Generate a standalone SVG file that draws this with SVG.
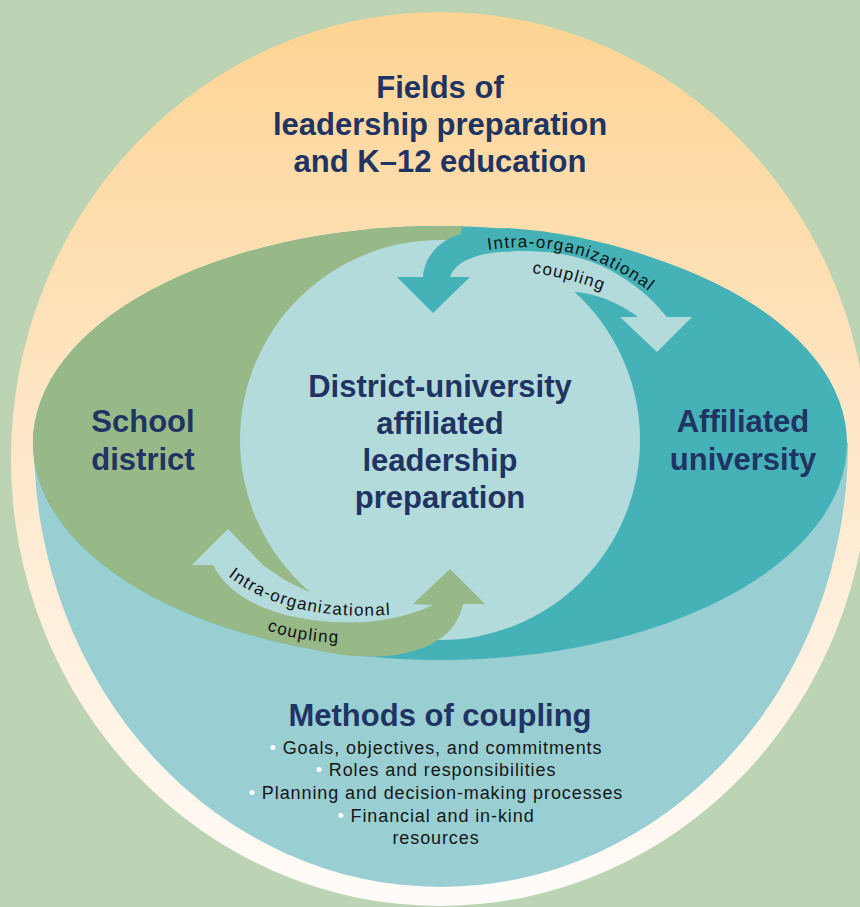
<svg xmlns="http://www.w3.org/2000/svg" width="860" height="907" viewBox="0 0 860 907">
<style>
.h{font-family:"Liberation Sans",Arial,sans-serif;font-weight:bold;font-size:31px;fill:#1f3462;text-anchor:middle}
.b{font-family:"Liberation Sans",Arial,sans-serif;font-size:18px;fill:#161616;text-anchor:middle;letter-spacing:0.9px}
.a{font-family:"Liberation Sans",Arial,sans-serif;font-size:17px;fill:#111;letter-spacing:1.3px}
.dot{fill:#ffffff}
</style>
<defs>
<linearGradient id="bg" x1="0" y1="0" x2="0" y2="1">
<stop offset="0" stop-color="#fdd493"/>
<stop offset="0.45" stop-color="#ffe6c6"/>
<stop offset="1" stop-color="#fffcf9"/>
</linearGradient>
<clipPath id="leftside"><polygon points="0,100 468,100 466,215 330,670 0,700"/></clipPath>
<path id="tp1" d="M 488 250 Q 585 235 662 302"/>
<path id="tp2" d="M 532 273 Q 571 278 614 295"/>
<path id="bp1" d="M 228 576 Q 292 626 410 613"/>
<path id="bp2" d="M 267 630 Q 301 643 352 643"/>
</defs>
<rect x="0" y="0" width="860" height="907" fill="#bcd4b4"/>
<g id="fields">
<ellipse cx="440" cy="459" rx="429" ry="447" fill="url(#bg)"/>
<text class="h" x="440" y="98">Fields of</text>
<text class="h" x="440" y="135">leadership preparation</text>
<text class="h" x="440" y="172">and K–12 education</text>
</g>
<g id="methods">
<path d="M 34 443 A 407 444 0 0 0 848 443 Z" fill="#99cfd2"/>
<text class="h" x="440" y="726">Methods of coupling</text>
<text class="b" x="436" y="754"><tspan class="dot">• </tspan>Goals, objectives, and commitments</text>
<text class="b" x="436" y="776"><tspan class="dot">• </tspan>Roles and responsibilities</text>
<text class="b" x="436" y="799"><tspan class="dot">• </tspan>Planning and decision-making processes</text>
<text class="b" x="436" y="822"><tspan class="dot">• </tspan>Financial and in-kind</text>
<text class="b" x="436" y="844">resources</text>
</g>
<g id="affiliated-university">
<ellipse cx="440" cy="443" rx="407" ry="217" fill="#45b2b8"/>
<text class="h" x="743" y="432">Affiliated</text>
<text class="h" x="743" y="470">university</text>
</g>
<g id="school-district">
<ellipse cx="440" cy="443" rx="407" ry="217" fill="#97b987" clip-path="url(#leftside)"/>
<text class="h" x="143" y="432">School</text>
<text class="h" x="143" y="470">district</text>
</g>
<g id="district-university">
<circle cx="440" cy="440" r="200" fill="#b4dbdc"/>
</g>
<g id="connectors">
<path d="M 450 277 C 455 262 475 254 500 252 C 530 250 565 250 600 265 C 625 276 650 295 667 317 L 692 317 L 657 352 L 620 317 L 638 317 C 625 307 600 293 573 292 L 500 330 Z" fill="#b4dbdc"/>
<path d="M 423 277 C 424 258 438 242 455 236 C 470 231 488 229 507 228 C 570 232 640 248 700 278 L 720 300 L 667 317 C 650 295 625 276 600 265 C 565 250 530 250 500 252 C 475 254 455 262 450 277 L 470 277 L 433 313 L 397 277 Z" fill="#45b2b8"/>
<path d="M 192 565 L 228 529 L 263 565 C 280 578 295 586 310 592 L 420 580 L 433 605 C 390 625 340 626 300 618 C 255 610 225 590 213 565 Z" fill="#b4dbdc"/>
<path d="M 213 565 C 225 590 255 610 300 618 C 340 626 390 625 433 605 L 413 604 L 450 569 L 485 604 L 463 604 C 458 628 440 648 395 655 C 360 659 330 655 300 645 L 210 572 Z" fill="#97b987"/>
<text class="a"><textPath href="#tp1">Intra-organizational</textPath></text>
<text class="a"><textPath href="#tp2">coupling</textPath></text>
<text class="a"><textPath href="#bp1">Intra-organizational</textPath></text>
<text class="a"><textPath href="#bp2">coupling</textPath></text>
</g>
<g id="center-label">
<text class="h" x="440" y="397">District-university</text>
<text class="h" x="440" y="434">affiliated</text>
<text class="h" x="440" y="471">leadership</text>
<text class="h" x="440" y="508">preparation</text>
</g>
</svg>
